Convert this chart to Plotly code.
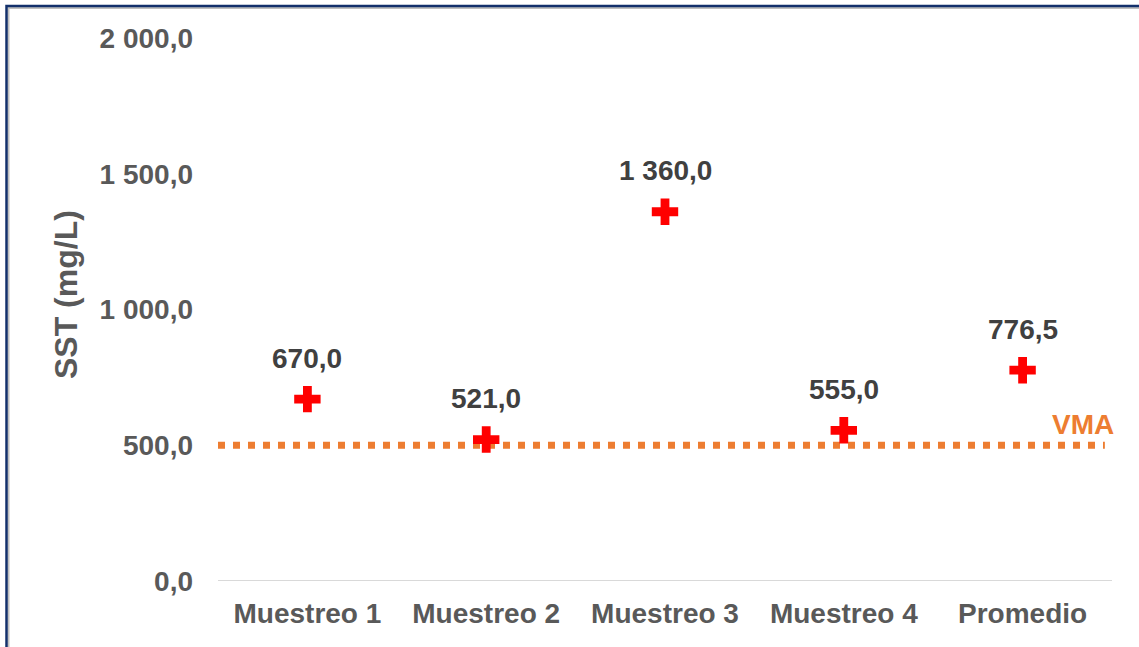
import plotly.graph_objects as go

categories = ["Muestreo 1", "Muestreo 2", "Muestreo 3", "Muestreo 4", "Promedio"]
sst_values = [670.0, 521.0, 1360.0, 555.0, 776.5]
vma_value = 500.0
vma_label = "VMA"
y_title = "SST (mg/L)"
y_ticks = [0, 500, 1000, 1500, 2000]

W, H = 1139, 647
L, R, T, B = 218, 27, 38, 66
pw, ph = W - L - R, H - T - B

def px_x(p):
    return (p - L) / pw

def px_y(p):
    return (H - B - p) / ph

def fmt(v):
    return f"{v:,.1f}".replace(",", " ").replace(".", ",")

font_family = "Liberation Sans, Arial, sans-serif"
grey = "#595959"

fig = go.Figure()
fig.add_trace(go.Scatter(
    x=categories, y=sst_values, mode="markers",
    marker=dict(symbol="cross", size=22, color="#FF0000", line=dict(width=0)),
    cliponaxis=False, showlegend=False, hoverinfo="skip",
))

for c, v in zip(categories, sst_values):
    fig.add_annotation(x=c, y=v, yshift=41, text=fmt(v), showarrow=False,
                       font=dict(family=font_family, size=28, color="#404040", weight="bold"))

# VMA dotted line
fig.add_shape(type="line", xref="paper", yref="y", x0=0, x1=0.992,
              y0=vma_value, y1=vma_value,
              line=dict(color="#ED7D31", width=7, dash="7px,8px"), layer="below")
fig.add_annotation(xref="paper", yref="y", x=px_x(1083), y=vma_value, yshift=21,
                   xanchor="center", yanchor="middle",
                   text=vma_label, showarrow=False,
                   font=dict(family=font_family, size=28, color="#ED7D31", weight="bold"))

# y-axis title
fig.add_annotation(xref="paper", yref="paper", x=px_x(66), y=px_y(295),
                   xanchor="center", yanchor="middle", textangle=-90,
                   text=y_title, showarrow=False,
                   font=dict(family=font_family, size=32, color=grey, weight="bold"))

# baseline
fig.add_shape(type="line", xref="paper", yref="y", x0=0, x1=1, y0=0, y1=0,
              line=dict(color="#D9D9D9", width=2), layer="below")

# frame
fig.add_shape(type="rect", xref="paper", yref="paper",
              x0=px_x(8.5), x1=px_x(1300), y0=px_y(800), y1=px_y(8),
              line=dict(color="#BFBFBF", width=2), layer="below")
fig.add_shape(type="rect", xref="paper", yref="paper",
              x0=px_x(6.5), x1=px_x(1300), y0=px_y(800), y1=px_y(6),
              line=dict(color="#13306B", width=2.5), layer="below")

fig.update_layout(
    width=W, height=H,
    margin=dict(l=L, r=R, t=T, b=B),
    paper_bgcolor="white", plot_bgcolor="white",
    separators=", ",
    font=dict(family=font_family, color=grey),
    xaxis=dict(type="category", range=[-0.5, 4.5], showgrid=False, zeroline=False,
               showline=False, ticks="", ticklabelstandoff=13,
               tickfont=dict(family=font_family, size=28, color=grey, weight="bold")),
    yaxis=dict(range=[0, 2000], tickvals=y_ticks, tickformat=",.1f",
               showgrid=False, zeroline=False, showline=False, ticks="",
               ticklabelstandoff=24,
               tickfont=dict(family=font_family, size=28, color=grey, weight="bold")),
)

fig.write_html("out.html", config={"displayModeBar": False},
               post_script="document.body.style.margin='0';document.body.style.overflow='hidden';")
